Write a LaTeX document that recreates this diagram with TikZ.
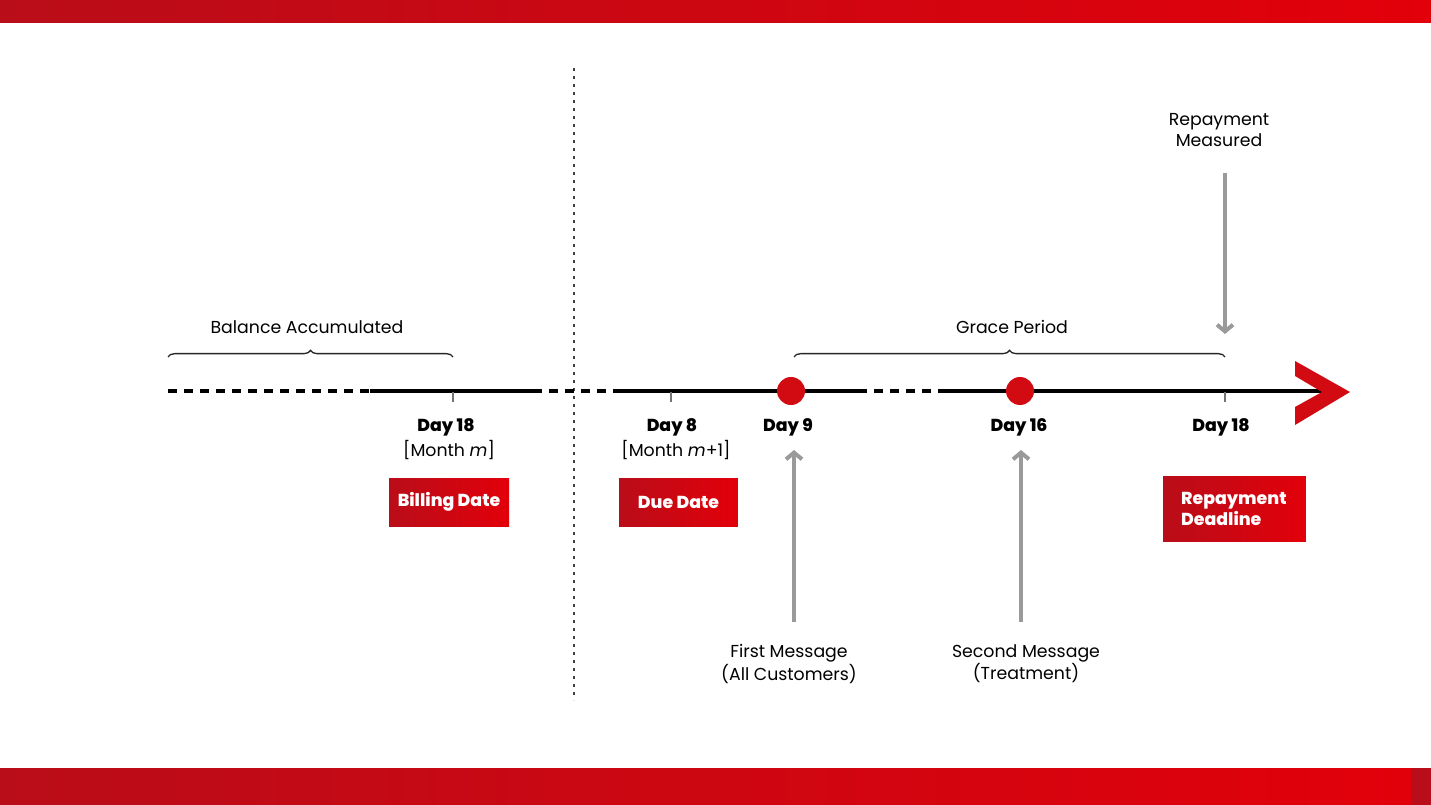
\documentclass[tikz,border=0pt]{standalone}
\usepackage{fontspec}
\setmainfont{Poppins}
\newfontfamily\heavy{Poppins ExtraBold}
\usetikzlibrary{arrows.meta,positioning,decorations.pathreplacing}
\definecolor{dred}{HTML}{B90D19}
\definecolor{bred}{HTML}{E2000A}
\definecolor{mred}{HTML}{D20A12}
\definecolor{agray}{HTML}{9A9A9A}
\tikzset{
  tl/.style={line width=3pt,black},
  tldash/.style={tl,dash pattern=on 6.75pt off 5.25pt},
  tlgap/.style={tldash,dash phase=6.75pt},
  sep/.style={line width=2.2pt,black!75,dash pattern=on 2pt off 4pt},
  tick/.style={line width=0.9pt,black!55},
  dot/.style={circle,fill=mred,minimum size=21pt,inner sep=0pt},
  lbl/.style={font=\fontsize{13}{15.5}\selectfont,align=center},
  day/.style={font=\heavy\fontsize{13}{15.5}\selectfont},
  datebox/.style={left color=dred,right color=bred,text=white,font=\heavy\fontsize{13}{15.5}\selectfont,inner sep=0pt},
  garr/.style={-{Straight Barb[length=5pt,width=12pt]},line width=3pt,agray},
  brc/.style={decorate,decoration={brace,amplitude=5pt},line width=1pt,black!85},
}
\begin{document}
\begin{tikzpicture}[x=0.75pt,y=-0.75pt]
  \useasboundingbox (0,0) rectangle (1431,805);
  % bars
  \shade[left color=dred,right color=bred] (0,0) rectangle (1431,23);
  \shade[left color=dred,right color=bred] (0,768) rectangle (1431,805);
  \fill[dred] (1411,768) rectangle (1431,805);

  % month separator
  \coordinate (sepT) at (574,68);
  \coordinate (sepB) at (574,700);
  \draw[sep] (sepT) -- (sepB);

  % timeline
  \coordinate (a0) at (168,391);
  \coordinate (a1) at (370,391);
  \coordinate (a2) at (542,391);
  \coordinate (a3) at (616,391);
  \coordinate (a4) at (867,391);
  \coordinate (a5) at (940,391);
  \coordinate (a6) at (1322,391);
  \draw[tldash] (a0) -- (a1);
  \draw[tl] (a1) -- (a2);
  \draw[tlgap] (a2) -- (a3);
  \draw[tl] (a3) -- (a4);
  \draw[tlgap] (a4) -- (a5);
  \draw[tl] (a5) -- (a6);
  \fill[mred] (1295,361) -- (1350,392) -- (1295,425) -- (1295,407) -- (1322,392) -- (1295,376) -- cycle;

  % ticks
  \coordinate (k1) at (453,392);
  \coordinate (k2) at (671,392);
  \coordinate (k3) at (1225,392);
  \foreach \k in {k1,k2,k3}
    \draw[tick] (\k) -- ++(0,10);

  \node[dot] (d9) at (791,391) {};
  \node[dot] (d16) at (1020,391) {};

  % day labels
  \node[day] (l1) at (446,427) {Day 18};
  \node[lbl] (n1) at (449,450) {[Month \textit{m}]};
  \node[day] (l2) at (672,427) {Day 8};
  \node[lbl] (n2) at (676,450) {[Month \textit{m}+1]};
  \node[day] (l3) at (788,427) {Day 9};
  \node[day] (l4) at (1019,427) {Day 16};
  \node[day] (l5) at (1221,427) {Day 18};

  % boxes
  \node[datebox,minimum width=90pt,minimum height=36pt] (bill) at (449,502) {Billing Date};
  \node[datebox,minimum width=89pt,minimum height=36pt] (due) at (678.5,502) {Due Date};
  \node[datebox,minimum width=107pt,minimum height=49pt,align=left,text width=80pt,inner xsep=13.5pt] (rep) at (1234.5,509) {Repayment\\Deadline};

  % braces
  \coordinate (b1l) at (168,357);
  \coordinate (b1r) at (453,357);
  \coordinate (b2l) at (794,357);
  \coordinate (b2r) at (1225,357);
  \draw[brc] (b1l) -- (b1r);
  \draw[brc] (b2l) -- (b2r);
  \node[lbl] (bal) at (307,327) {Balance Accumulated};
  \node[lbl] (gp) at (1012,327) {Grace Period};

  % messages
  \node[lbl] (m1) at (789,664) {First Message\\(All Customers)};
  \node[lbl] (m2) at (1026,664) {Second Message\\(Treatment)};
  \node[lbl] (meas) at (1219,130) {Repayment\\Measured};
  \coordinate (m1b) at (794,622);
  \coordinate (m1t) at (794,450);
  \coordinate (m2b) at (1021,622);
  \coordinate (m2t) at (1021,450);
  \coordinate (r1t) at (1225,173);
  \coordinate (r1b) at (1225,334);
  \draw[garr] (m1b) -- (m1t);
  \draw[garr] (m2b) -- (m2t);
  \draw[garr] (r1t) -- (r1b);
\end{tikzpicture}
\end{document}
